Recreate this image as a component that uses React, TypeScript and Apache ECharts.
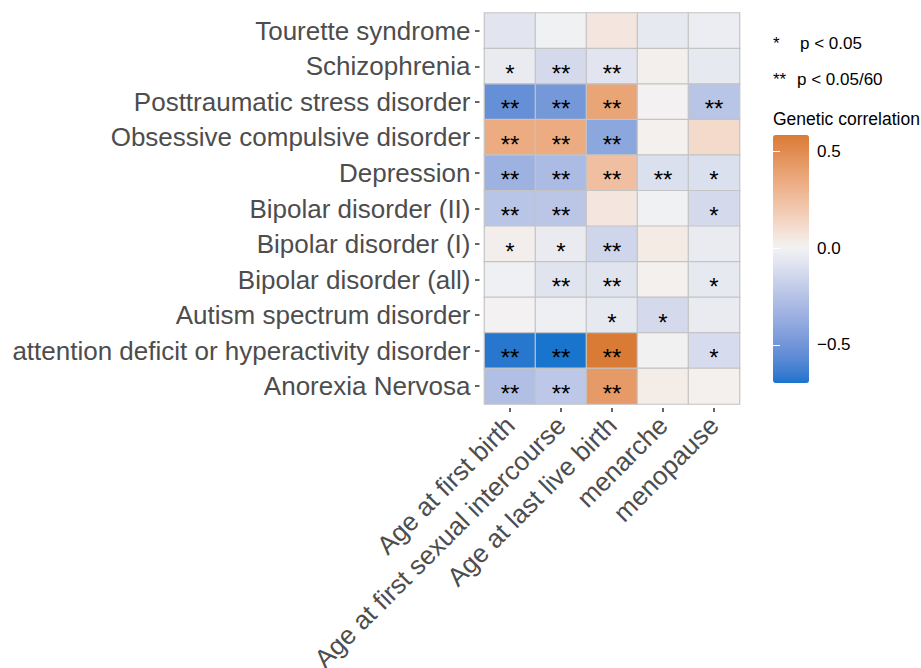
import React, { useEffect, useRef } from "react";
import * as echarts from "echarts";

const traits = [
  "Age at first birth",
  "Age at first sexual intercourse",
  "Age at last live birth",
  "menarche",
  "menopause",
];

const disorders = [
  "Tourette syndrome",
  "Schizophrenia",
  "Posttraumatic stress disorder",
  "Obsessive compulsive disorder",
  "Depression",
  "Bipolar disorder (II)",
  "Bipolar disorder (I)",
  "Bipolar disorder (all)",
  "Autism spectrum disorder",
  "attention deficit or hyperactivity disorder",
  "Anorexia Nervosa",
];

// genetic correlation, one row per disorder (columns follow traits)
const rgTourette = [-0.07, -0.01, 0.06, -0.05, -0.03];
const rgSchizophrenia = [-0.04, -0.13, -0.07, 0.02, -0.05];
const rgPTSD = [-0.54, -0.49, 0.38, 0.005, -0.24];
const rgOCD = [0.35, 0.35, -0.41, 0.015, 0.12];
const rgDepression = [-0.34, -0.29, 0.25, -0.1, -0.1];
const rgBipolarII = [-0.24, -0.23, 0.06, -0.01, -0.13];
const rgBipolarI = [0.025, -0.04, -0.15, 0.04, -0.04];
const rgBipolarAll = [-0.015, -0.08, -0.08, 0.015, -0.05];
const rgAutism = [0.005, -0.02, -0.05, -0.13, -0.04];
const rgADHD = [-0.68, -0.698, 0.586, -0.005, -0.12];
const rgAnorexia = [-0.27, -0.22, 0.43, 0.035, 0.015];

// significance markers
const sigTourette = ["", "", "", "", ""];
const sigSchizophrenia = ["*", "**", "**", "", ""];
const sigPTSD = ["**", "**", "**", "", "**"];
const sigOCD = ["**", "**", "**", "", ""];
const sigDepression = ["**", "**", "**", "**", "*"];
const sigBipolarII = ["**", "**", "", "", "*"];
const sigBipolarI = ["*", "*", "**", "", ""];
const sigBipolarAll = ["", "**", "**", "", "*"];
const sigAutism = ["", "", "*", "*", ""];
const sigADHD = ["**", "**", "**", "", "*"];
const sigAnorexia = ["**", "**", "**", "", ""];

const rgRows = [
  rgTourette, rgSchizophrenia, rgPTSD, rgOCD, rgDepression, rgBipolarII,
  rgBipolarI, rgBipolarAll, rgAutism, rgADHD, rgAnorexia,
];
const sigRows = [
  sigTourette, sigSchizophrenia, sigPTSD, sigOCD, sigDepression, sigBipolarII,
  sigBipolarI, sigBipolarAll, sigAutism, sigADHD, sigAnorexia,
];

const scaleMin = -0.698;
const scaleMax = 0.586;
const colorTicks = [-0.5, 0, 0.5];

const LOW = "#1874CD";
const MID = "#F3F3F3";
const HIGH = "#D97B35";

// --- Lab interpolation helpers (like ggplot's gradient2) ---
function toLin(c: number) {
  c /= 255;
  return c <= 0.04045 ? c / 12.92 : Math.pow((c + 0.055) / 1.055, 2.4);
}
function fromLin(c: number) {
  const v = c <= 0.0031308 ? 12.92 * c : 1.055 * Math.pow(c, 1 / 2.4) - 0.055;
  return Math.round(Math.max(0, Math.min(1, v)) * 255);
}
function hexToLab(hex: string) {
  const r = toLin(parseInt(hex.slice(1, 3), 16));
  const g = toLin(parseInt(hex.slice(3, 5), 16));
  const b = toLin(parseInt(hex.slice(5, 7), 16));
  const X = (0.4124 * r + 0.3576 * g + 0.1805 * b) / 0.95047;
  const Y = 0.2126 * r + 0.7152 * g + 0.0722 * b;
  const Z = (0.0193 * r + 0.1192 * g + 0.9505 * b) / 1.08883;
  const f = (t: number) => (t > 0.008856 ? Math.cbrt(t) : 7.787 * t + 16 / 116);
  const fx = f(X), fy = f(Y), fz = f(Z);
  return [116 * fy - 16, 500 * (fx - fy), 200 * (fy - fz)];
}
function labToHex(lab: number[]) {
  const fy = (lab[0] + 16) / 116;
  const fx = fy + lab[1] / 500;
  const fz = fy - lab[2] / 200;
  const finv = (t: number) => (t * t * t > 0.008856 ? t * t * t : (t - 16 / 116) / 7.787);
  const X = 0.95047 * finv(fx), Y = finv(fy), Z = 1.08883 * finv(fz);
  const r = 3.2406 * X - 1.5372 * Y - 0.4986 * Z;
  const g = -0.9689 * X + 1.8758 * Y + 0.0415 * Z;
  const b = 0.0557 * X - 0.204 * Y + 1.057 * Z;
  const h = (n: number) => fromLin(n).toString(16).padStart(2, "0");
  return "#" + h(r) + h(g) + h(b);
}
function mix(a: string, b: string, t: number) {
  const la = hexToLab(a), lb = hexToLab(b);
  return labToHex([0, 1, 2].map((i) => la[i] + (lb[i] - la[i]) * t));
}
function colorFor(v: number) {
  return v < 0 ? mix(MID, LOW, v / scaleMin) : mix(MID, HIGH, v / scaleMax);
}
const STOPS = 80;
const gradientColors: string[] = [];
for (let i = 0; i <= STOPS; i++) {
  gradientColors.push(colorFor(scaleMin + ((scaleMax - scaleMin) * i) / STOPS));
}

const FONT = "Liberation Sans, Arial, Helvetica, sans-serif";

export default function App() {
  const ref = useRef<HTMLDivElement>(null);
  useEffect(() => {
    if (!ref.current) return;
    const chart = echarts.init(ref.current, null, { renderer: "svg" });
    const data: any[] = [];
    rgRows.forEach((row, r) =>
      row.forEach((v, c) => data.push([c, r, v, sigRows[r][c]]))
    );
    const fmt = (v: any) => Number(v).toFixed(1).replace("-", "\u2212");
    chart.setOption({
      animation: false,
      backgroundColor: "#ffffff",
      textStyle: { fontFamily: FONT },
      grid: [
        { left: 484.5, top: 13, width: 255, height: 391, outerBoundsMode: "none", containLabel: false },
        { left: 773, top: 135, width: 36, height: 248, outerBoundsMode: "none", containLabel: false },
      ],
      xAxis: [
        {
          type: "category",
          data: traits,
          gridIndex: 0,
          offset: 4,
          axisLine: { show: false },
          axisTick: { show: true, alignWithLabel: true, length: 4, lineStyle: { color: "#333333", width: 1.5 } },
          axisLabel: { rotate: 45, interval: 0, fontSize: 26, color: "#4D4D4D", fontFamily: FONT, margin: 13 },
          splitLine: { show: false },
        },
        { type: "value", gridIndex: 1, show: false, min: 0, max: 1 },
      ],
      yAxis: [
        {
          type: "category",
          data: disorders,
          inverse: true,
          gridIndex: 0,
          offset: 5,
          axisLine: { show: false },
          axisTick: { show: true, alignWithLabel: true, length: 4.5, lineStyle: { color: "#333333", width: 1.5 } },
          axisLabel: { interval: 0, fontSize: 26, color: "#4D4D4D", fontFamily: FONT, margin: 9 },
          splitLine: { show: false },
        },
        {
          type: "value",
          gridIndex: 1,
          position: "right",
          min: scaleMin,
          max: scaleMax,
          z: 10,
          axisLine: { show: false },
          splitLine: { show: false },
          axisTick: { show: true, inside: true, length: 7, customValues: colorTicks, lineStyle: { color: "#ffffff", width: 1 } },
          axisLabel: { show: true, customValues: colorTicks, formatter: fmt, fontSize: 17, color: "#000000", fontFamily: FONT, margin: 8 },
        },
        {
          type: "value",
          gridIndex: 1,
          position: "left",
          min: scaleMin,
          max: scaleMax,
          z: 10,
          axisLine: { show: false },
          splitLine: { show: false },
          axisTick: { show: true, inside: true, length: 7, customValues: colorTicks, lineStyle: { color: "#ffffff", width: 1 } },
          axisLabel: { show: false },
        },
      ],
      visualMap: {
        type: "continuous",
        seriesIndex: 0,
        dimension: 2,
        min: scaleMin,
        max: scaleMax,
        calculable: false,
        show: true,
        orient: "vertical",
        left: 773,
        top: 135,
        itemWidth: 36,
        itemHeight: 248,
        padding: 0,
        text: null,
        inRange: { color: gradientColors },
      },
      graphic: [
        { type: "text", left: 773, top: 35, style: { text: "*", fontSize: 17, fill: "#000", fontFamily: FONT } },
        { type: "text", left: 800, top: 35, style: { text: "p < 0.05", fontSize: 17, fill: "#000", fontFamily: FONT } },
        { type: "text", left: 773, top: 71, style: { text: "**", fontSize: 17, fill: "#000", fontFamily: FONT } },
        { type: "text", left: 797, top: 71, style: { text: "p < 0.05/60", fontSize: 17, fill: "#000", fontFamily: FONT } },
        { type: "text", left: 773, top: 110, style: { text: "Genetic correlation", fontSize: 17.5, fill: "#000", fontFamily: FONT } },
      ],
      series: [
        {
          type: "heatmap",
          xAxisIndex: 0,
          yAxisIndex: 0,
          data,
          itemStyle: { borderColor: "#C4C4C4", borderWidth: 1.2 },
          label: {
            show: true,
            formatter: (p: any) => p.data[3],
            fontSize: 24,
            color: "#000000",
            fontFamily: FONT,
            offset: [0, 7],
          },
          emphasis: { disabled: true },
        },
        { type: "scatter", xAxisIndex: 1, yAxisIndex: 1, data: [] },
      ],
    });
    return () => chart.dispose();
  }, []);
  return (
    <div
      ref={ref}
      style={{ position: "fixed", left: 0, top: 0, width: 921, height: 668 }}
    />
  );
}
